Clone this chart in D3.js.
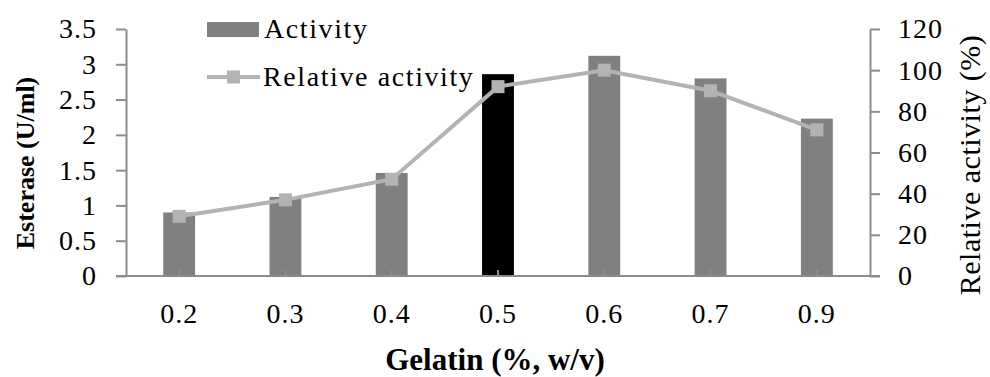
<!DOCTYPE html>
<html>
<head>
<meta charset="utf-8">
<script src="https://cdn.jsdelivr.net/npm/d3@7"></script>
<style>
  body { margin: 0; background: #fff; }
  svg { display: block; }
  .axis text { font-family: "Liberation Serif", serif; font-size: 28px; fill: #000; letter-spacing: 1px; }
  .axis path, .axis line { stroke: #8c8c8c; stroke-width: 2px; }
</style>
</head>
<body>
<svg id="chart" width="990" height="377"></svg>
<script>
// data
var gelatin = ["0.2", "0.3", "0.4", "0.5", "0.6", "0.7", "0.9"];
var activity = [0.90, 1.12, 1.46, 2.86, 3.12, 2.80, 2.23];
var relative = [29, 37, 47, 92, 100, 90, 71];
var leftTicks = [0, 0.5, 1, 1.5, 2, 2.5, 3, 3.5];
var rightTicks = [0, 20, 40, 60, 80, 100, 120];
var highlight = "0.5";

function drawChart(){
  var svg = d3.select("#chart");
  var left = 126, right = 870, top = 29, bottom = 276;

  var x = d3.scaleBand().domain(gelatin).range([left, right])
            .paddingInner(0.7).paddingOuter(0.35);
  var y = d3.scaleLinear().domain([0, 3.5]).range([bottom, top]);
  var y2 = d3.scaleLinear().domain([0, 120]).range([bottom, top]);

  // bars
  svg.append("g").selectAll("rect")
     .data(gelatin)
     .enter().append("rect")
     .attr("x", function(d){ return x(d); })
     .attr("width", x.bandwidth())
     .attr("y", function(d, i){ return y(activity[i]); })
     .attr("height", function(d, i){ return bottom - y(activity[i]); })
     .attr("fill", function(d){ return d == highlight ? "#000" : "#808080"; });

  // left axis
  svg.append("g")
     .attr("class", "axis")
     .attr("transform", "translate(" + left + ",0)")
     .call(d3.axisLeft(y).tickValues(leftTicks).tickSize(10).tickSizeOuter(0).tickPadding(19)
             .tickFormat(function(d){ return String(d); }));

  // right axis
  svg.append("g")
     .attr("class", "axis")
     .attr("transform", "translate(" + right + ",0)")
     .call(d3.axisRight(y2).tickValues(rightTicks).tickSize(10).tickSizeOuter(0).tickPadding(18));

  // x axis, ticks sit at category centres and point inward
  var gx = svg.append("g")
     .attr("class", "axis")
     .attr("transform", "translate(0," + bottom + ")")
     .call(d3.axisBottom(x).tickSize(-6).tickSizeOuter(0));
  gx.select(".domain").remove();
  gx.append("line")
    .attr("x1", left - 10).attr("x2", right + 10)
    .attr("y1", 0).attr("y2", 0);
  gx.selectAll("text").attr("y", 47).attr("dy", 0);

  // relative activity line
  var line = d3.line()
    .x(function(d, i){ return x(gelatin[i]) + x.bandwidth() / 2; })
    .y(function(d){ return y2(d); });

  svg.append("path")
     .datum(relative)
     .attr("d", line)
     .attr("fill", "none")
     .attr("stroke", "#b3b3b3")
     .attr("stroke-width", 4);

  svg.append("g").selectAll("rect")
     .data(relative)
     .enter().append("rect")
     .attr("x", function(d, i){ return x(gelatin[i]) + x.bandwidth() / 2 - 6.5; })
     .attr("y", function(d){ return y2(d) - 6.5; })
     .attr("width", 13)
     .attr("height", 13)
     .attr("fill", "#b3b3b3");

  // legend
  var lg = svg.append("g").style("font-family", "Liberation Serif, serif")
              .style("font-size", "28px").style("letter-spacing", "1.6px");
  lg.append("rect").attr("x", 207).attr("y", 22).attr("width", 52).attr("height", 15).attr("fill", "#808080");
  lg.append("text").attr("x", 264).attr("y", 38).text("Activity");
  lg.append("line").attr("x1", 207).attr("x2", 260).attr("y1", 77).attr("y2", 77)
    .attr("stroke", "#b3b3b3").attr("stroke-width", 4);
  lg.append("rect").attr("x", 227).attr("y", 70.5).attr("width", 13).attr("height", 13).attr("fill", "#b3b3b3");
  lg.append("text").attr("x", 263).attr("y", 86).text("Relative activity");

  // axis titles
  svg.append("text")
     .attr("transform", "translate(34,163) rotate(-90)")
     .attr("text-anchor", "middle")
     .style("font-family", "Liberation Serif, serif")
     .style("font-size", "26px").style("font-weight", "bold")
     .text("Esterase (U/ml)");

  svg.append("text")
     .attr("transform", "translate(980,165) rotate(-90)")
     .attr("text-anchor", "middle")
     .style("font-family", "Liberation Serif, serif")
     .style("font-size", "30px")
     .style("letter-spacing", "0.5px")
     .text("Relative activity (%)");

  svg.append("text")
     .attr("x", 495).attr("y", 370)
     .attr("text-anchor", "middle")
     .style("font-family", "Liberation Serif, serif")
     .style("font-size", "31px").style("font-weight", "bold")
     .text("Gelatin (%, w/v)");
}

drawChart();
</script>
</body>
</html>
